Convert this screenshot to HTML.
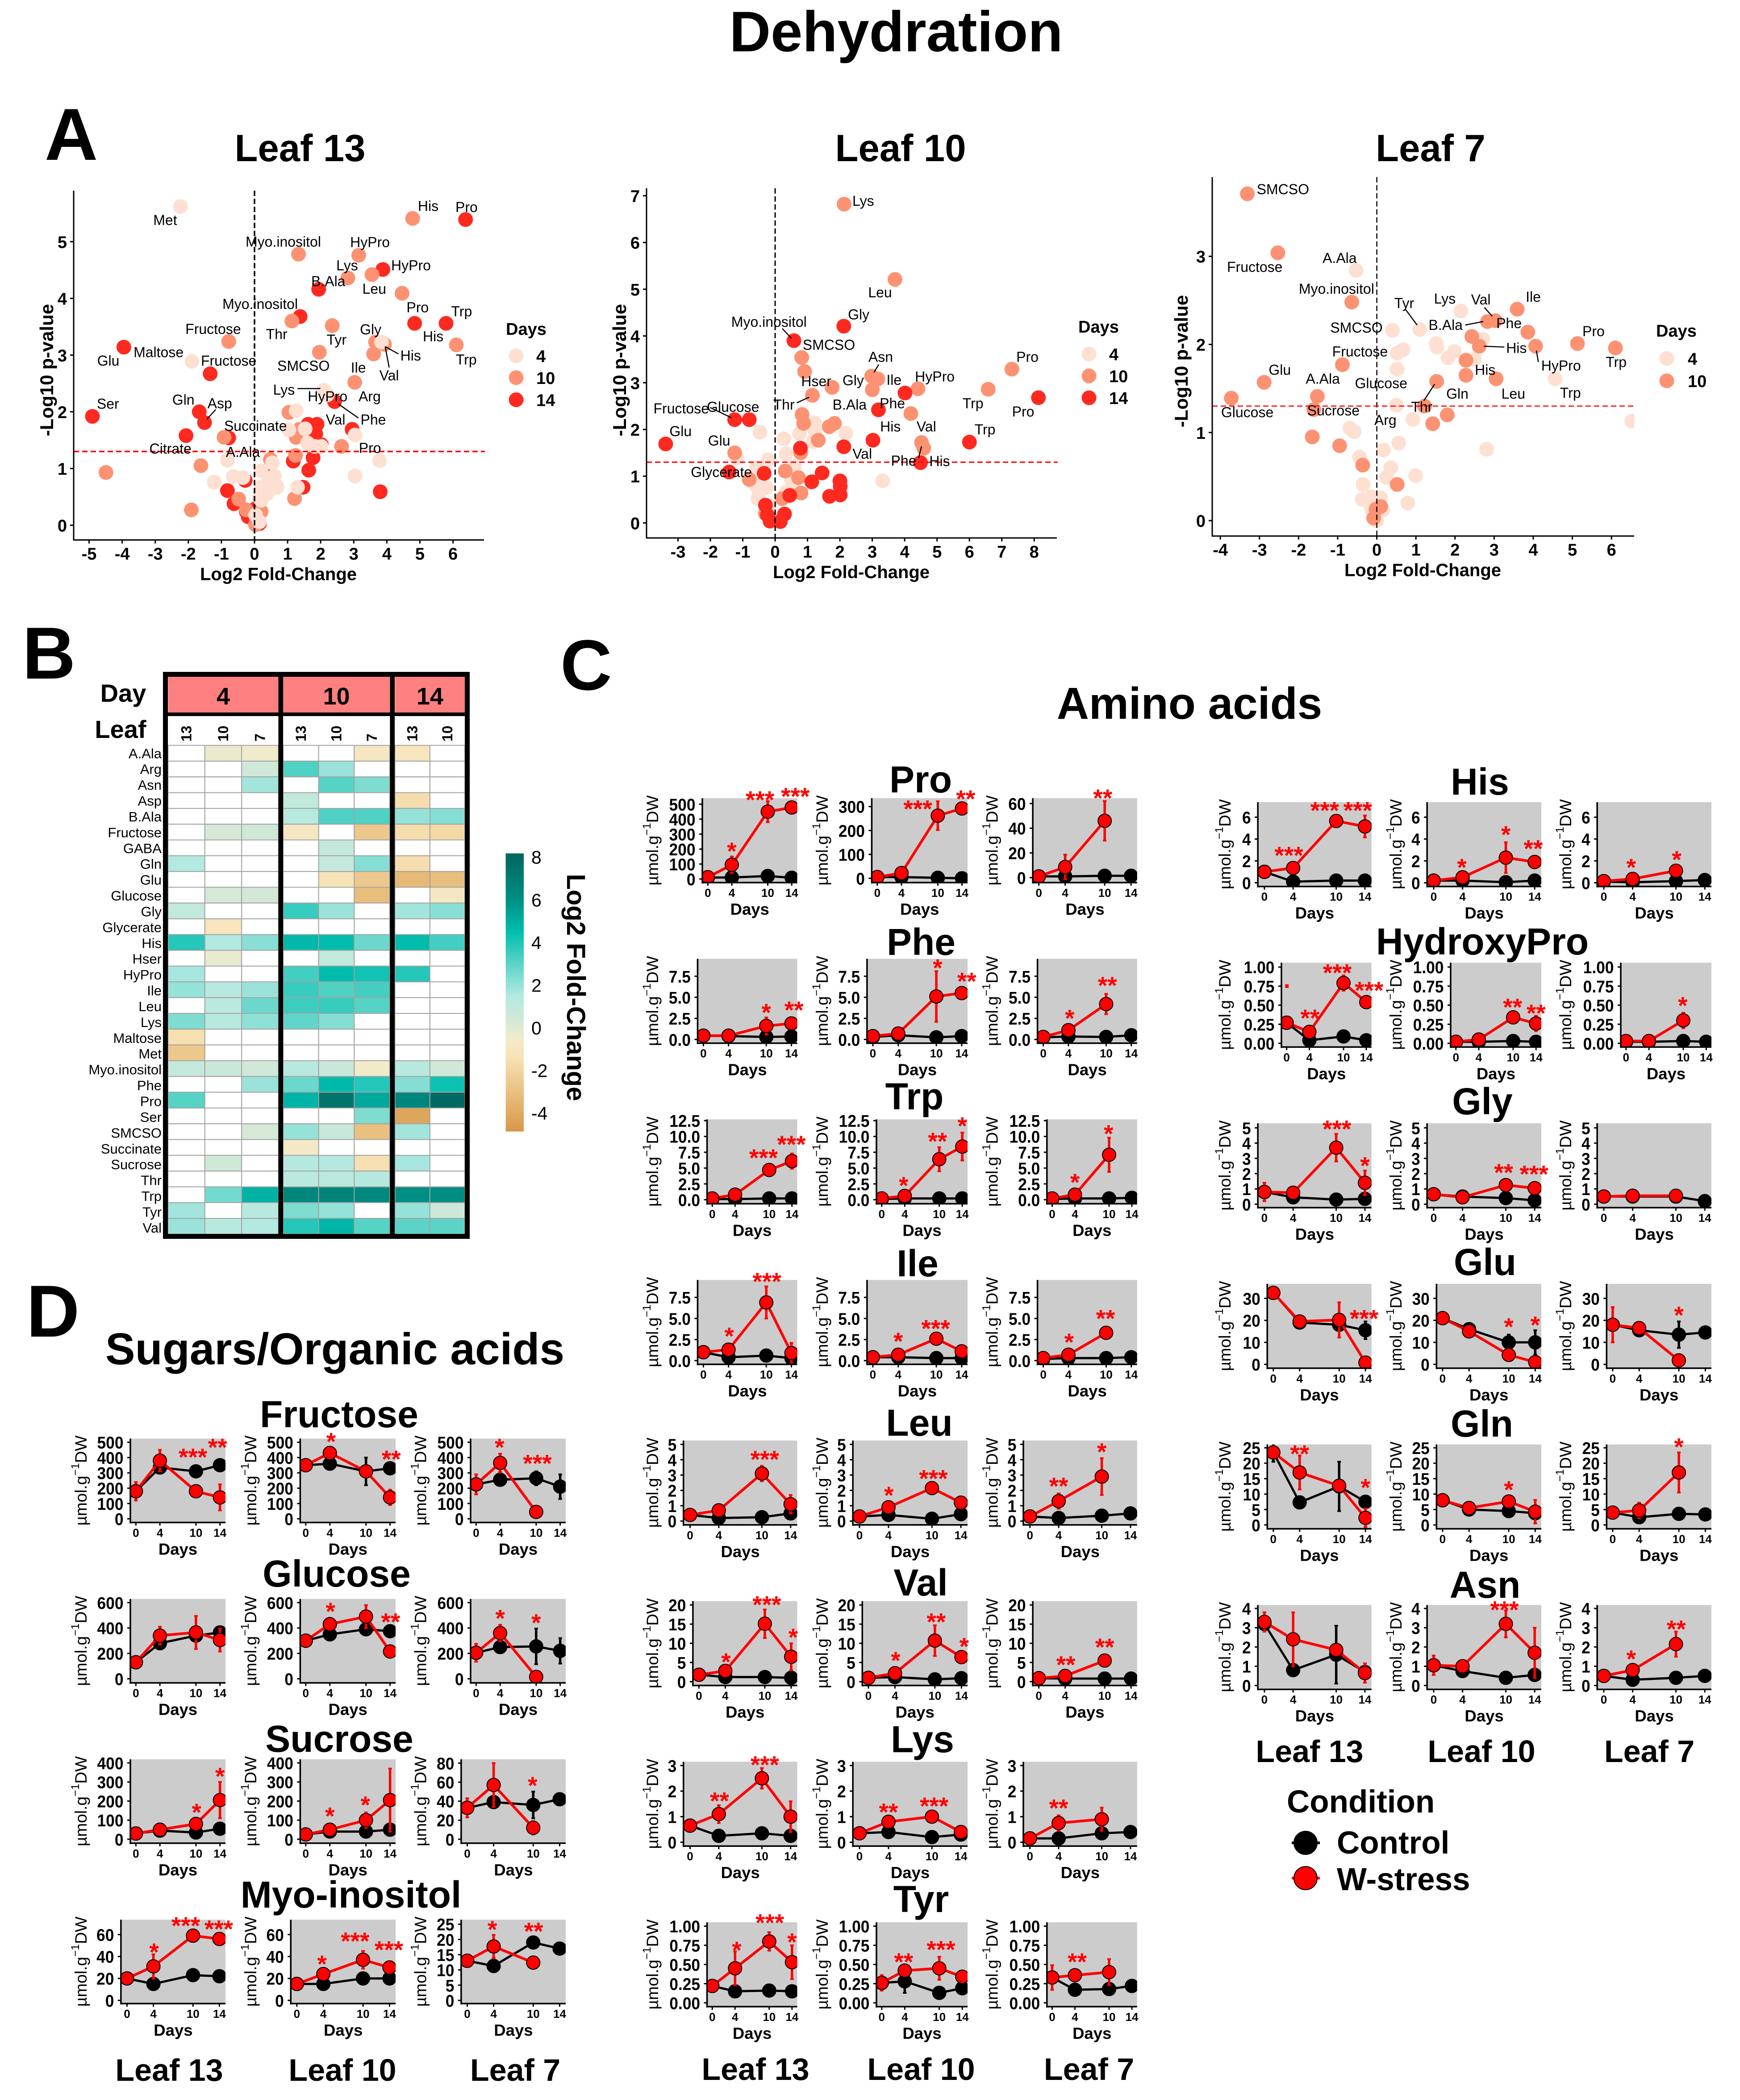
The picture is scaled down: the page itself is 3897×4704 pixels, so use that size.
<!DOCTYPE html>
<html lang="en">
<head>
<meta charset="utf-8">
<title>Dehydration</title>
<style>
html,body{margin:0;padding:0;background:#fff;width:3897px;height:4704px;overflow:hidden}
svg{display:block}
text{font-family:"Liberation Sans",sans-serif}
.b{font-weight:700}
</style>
</head>
<body>
<svg id="fig" xmlns="http://www.w3.org/2000/svg" width="3897" height="4704" viewBox="0 0 3897 4704">
<rect x="0" y="0" width="3897" height="4704" fill="#fff"/>
<text class="b" x="2007" y="115" font-size="128" text-anchor="middle">Dehydration</text>
<text class="b" x="100" y="358" font-size="165">A</text>
<text class="b" x="50" y="1520" font-size="165">B</text>
<text class="b" x="1255" y="1545" font-size="160">C</text>
<text class="b" x="59" y="2994" font-size="165">D</text>
<text class="b" x="2664" y="1610" font-size="100" text-anchor="middle">Amino acids</text>
<text class="b" x="750" y="3056" font-size="100" text-anchor="middle">Sugars/Organic acids</text>
<text class="b" x="1692" y="4659" font-size="70" text-anchor="middle">Leaf 13</text>
<text class="b" x="2063" y="4659" font-size="70" text-anchor="middle">Leaf 10</text>
<text class="b" x="2439" y="4659" font-size="70" text-anchor="middle">Leaf 7</text>
<text class="b" x="2933" y="3947" font-size="70" text-anchor="middle">Leaf 13</text>
<text class="b" x="3318" y="3947" font-size="70" text-anchor="middle">Leaf 10</text>
<text class="b" x="3694" y="3947" font-size="70" text-anchor="middle">Leaf 7</text>
<text class="b" x="379" y="4661" font-size="70" text-anchor="middle">Leaf 13</text>
<text class="b" x="767" y="4661" font-size="70" text-anchor="middle">Leaf 10</text>
<text class="b" x="1154" y="4661" font-size="70" text-anchor="middle">Leaf 7</text>
<g>
<text class="b" x="2882" y="4060" font-size="71">Condition</text>
<line x1="2893" x2="2956" y1="4128" y2="4128" stroke="#000" stroke-width="6"/>
<circle cx="2924" cy="4128" r="26" fill="#000" stroke="#000" stroke-width="2"/>
<text class="b" x="2994" y="4152" font-size="71">Control</text>
<line x1="2893" x2="2956" y1="4207" y2="4207" stroke="#f00" stroke-width="6"/>
<circle cx="2924" cy="4207" r="26" fill="#f00" stroke="#000" stroke-width="2"/>
<text class="b" x="2994" y="4234" font-size="71">W-stress</text>
</g>
<g>
<text class="b" x="276" y="1572" font-size="56" text-anchor="middle">Day</text>
<text class="b" x="270" y="1653" font-size="56" text-anchor="middle">Leaf</text>
<text class="b" transform="translate(1270,2212) rotate(90)" font-size="58" text-anchor="middle">Log2 Fold-Change</text>
</g>
</svg>
<script>
/* ---------- Volcano data (Log2 fold-change, -log10 p) ---------- */
const leaf13Day4=[[-2.24,5.62],[-1.89,2.89],[3.78,1.14],[3.04,.87],[3.04,1.59],[2.1,2.38],[2.2,2.3],[1.26,2.02],[1.04,1.68],[1.53,1.7],[1.6,1.45],[1.82,1.39],[2.02,1.39],[3.84,3.23],[-.82,1.15],[-1.22,.76],[-.64,.86],[-.35,.84],[.54,1.1],[.2,.96],[.6,.87],[.43,.81],[.68,.67],[.43,.61],[.2,.67],[.15,.5],[.37,.55],[1.3,.67],[.03,.18],[.15,.06],[.2,.44]];
const leaf13Day10=[[4.78,5.41],[1.33,4.78],[3.15,4.76],[3.55,4.42],[2.82,4.36],[4.46,4.09],[1.13,3.6],[2.35,3.52],[-.78,3.24],[6.1,3.18],[3.66,3.23],[3.93,3.19],[3.6,3.02],[1.96,3.05],[3.03,2.52],[1.04,1.99],[1.35,1.69],[1.26,1.55],[-.92,1.55],[2.63,1.39],[1.24,1.23],[-1.62,1.05],[-4.49,.93],[.48,1.16],[1.21,.47],[-1.91,.27],[-.48,.46],[.2,.24],[.03,.01],[-.25,.27]];
const leaf13Day14=[[6.38,5.39],[3.88,4.51],[1.94,4.16],[1.38,3.68],[4.84,3.56],[5.79,3.56],[-3.95,3.14],[-1.34,2.67],[2.42,2.18],[-1.67,2],[-4.9,1.92],[-1.51,1.81],[1.62,1.78],[1.89,1.78],[1.85,1.61],[2.95,1.69],[-2.07,1.58],[-.78,1.54],[2.02,1.42],[1.77,1.19],[1.17,1.13],[1.64,.97],[.45,.98],[1.47,.67],[3.8,.59],[-.82,.61],[-.62,.38],[-.28,.79],[-.25,.24],[-.19,.15],[.03,.29],[.15,.03],[.59,.73]];
const leaf10Day4=[[-.47,1.94],[1.21,2.14],[1.22,1.99],[.75,1.91],[.27,1.8],[2.18,1.92],[1.17,1.74],[.34,1.48],[-1.18,1.39],[-.21,1.35],[-.58,1.18],[.59,1.21],[3.32,.9],[.54,.76],[.33,.66],[-.64,.83],[-.26,.76],[-.49,.66],[-.53,.52],[-.18,.38],[0,.1],[.5,.94]];
const leaf10Day10=[[2.13,6.82],[3.7,5.21],[.82,3.54],[.91,3.24],[7.31,3.29],[2.98,3.14],[3.17,3.08],[1.76,2.9],[3,2.85],[4.41,2.87],[6.58,2.86],[1.15,2.73],[4.19,2.34],[.83,2.32],[.88,2.13],[1.83,2.13],[1.67,2.06],[1.33,1.77],[4.52,1.72],[4.59,1.6],[-1.25,1.5],[.79,1.5],[.31,1.11],[.72,.97],[-.8,.93],[.8,.64],[.22,.52],[-.3,.2]];
const leaf10Day14=[[-3.38,1.69],[-1.25,2.21],[-.8,2.21],[2.12,4.21],[.58,3.9],[4.01,2.78],[8.13,2.68],[3.19,2.42],[3.02,1.77],[6,1.73],[.78,1.6],[2.12,1.63],[4.49,1.29],[-1.42,1.09],[-.34,1.06],[1.45,1.07],[1.13,.88],[2,.9],[2.01,.78],[2.01,.6],[1.68,.57],[.45,.59],[-.24,.17],[.29,.19],[.16,.03],[-.16,.04],[-.3,.38]];
const leaf7Day4=[[-.53,2.84],[2.15,2.38],[1.1,2.17],[.4,2.16],[2.71,2.06],[1.52,2.01],[1.54,1.97],[1.98,1.92],[.67,1.94],[.52,1.9],[1.82,1.85],[2.49,1.83],[.52,1.72],[4.56,1.61],[.5,1.31],[.92,1.15],[6.52,1.13],[-.69,1.05],[-.58,1.01],[.56,.88],[.17,.8],[-.44,.72],[2.81,.81],[.36,.6],[.24,.49],[.99,.51],[-.35,.41],[.79,.2],[-.37,.24],[-.14,.27],[.1,.26],[-.14,.14],[.15,.12],[0,0]];
const leaf7Day10=[[-3.31,3.71],[-2.53,3.04],[-.64,2.48],[3.59,2.4],[3.03,2.27],[2.83,2.26],[3.86,2.14],[2.43,2.09],[4.06,1.98],[5.13,2.01],[6.1,1.96],[2.62,1.98],[-.88,1.77],[2.28,1.82],[2.28,1.65],[3.05,1.61],[1.53,1.58],[-2.88,1.57],[-1.52,1.41],[-3.72,1.39],[1.22,1.3],[-1.61,1.26],[1.8,1.2],[1.43,1.1],[-1.65,.95],[-.95,.85],[-.36,.63],[.52,.41],[.1,.16],[-.02,.13],[-.08,.03]];
const leaf13Labels=[['His',5.25,5.63],['Pro',6.41,5.61],['Met',-2.7,5.38],['Myo.inositol',.87,5],['HyPro',3.49,4.99],['Lys',2.8,4.58],['HyPro',4.73,4.58],['B.Ala',2.23,4.3],['Leu',3.62,4.17],['Myo.inositol',.17,3.9],['Pro',4.93,3.84],['Trp',6.26,3.77],['Fructose',-1.25,3.46],['Thr',.67,3.37],['Gly',3.51,3.45],['Tyr',2.48,3.27],['His',5.4,3.33],['Maltose',-2.9,3.05],['Glu',-4.42,2.9],['Fructose',-.78,2.9],['His',4.72,2.99],['Trp',6.4,2.92],['SMCSO',1.48,2.81],['Ile',3.14,2.78],['Val',4.07,2.64],['Lys',.89,2.39],['HyPro',2.21,2.27],['Arg',3.48,2.27],['Gln',-2.15,2.21],['Asp',-1.05,2.15],['Ser',-4.43,2.14],['Val',2.45,1.86],['Phe',3.59,1.86],['Succinate',.03,1.75],['Citrate',-2.54,1.35],['A.Ala',-.35,1.29],['Pro',3.49,1.36]];
const leaf10Labels=[['Lys',2.72,6.89],['Leu',3.24,4.93],['Gly',2.58,4.46],['Myo.inositol',-.19,4.3],['SMCSO',1.66,3.81],['Asn',3.26,3.55],['Pro',7.79,3.55],['Ile',3.67,3.06],['HyPro',4.93,3.13],['Hser',1.27,3.03],['Gly',2.41,3.05],['Thr',.27,2.53],['B.Ala',2.3,2.53],['Phe',3.62,2.56],['Trp',6.11,2.56],['Fructose',-2.9,2.45],['Glucose',-1.3,2.48],['Pro',7.66,2.38],['Glu',-2.92,1.96],['His',3.56,2.06],['Val',4.67,2.06],['Trp',6.48,2],['Glu',-1.73,1.76],['Val',2.69,1.48],['Phe',3.97,1.33],['His',5.08,1.32],['Glycerate',-1.66,1.09]];
const leaf7Labels=[['SMCSO',-2.4,3.76],['Fructose',-3.12,2.88],['A.Ala',-.95,2.98],['Myo.inositol',-1.03,2.63],['Tyr',.7,2.47],['Lys',1.74,2.52],['Val',2.66,2.51],['Ile',4,2.54],['SMCSO',-.52,2.19],['B.Ala',1.76,2.22],['Phe',3.38,2.24],['Pro',5.54,2.15],['His',3.57,1.96],['Fructose',-.43,1.92],['Trp',6.12,1.8],['Glu',-2.48,1.71],['HyPro',4.71,1.76],['His',2.77,1.71],['A.Ala',-1.38,1.61],['Glucose',.11,1.56],['Gln',2.06,1.44],['Leu',3.49,1.44],['Trp',4.95,1.45],['Thr',1.15,1.29],['Glucose',-3.31,1.23],['Sucrose',-1.11,1.25],['Arg',.22,1.14]];
const leaf13Connectors=[[3.95,3.15,4.35,3.02],[3.95,3.15,4.07,2.78],[1.3,2.41,1.99,2.41],[2.53,2.14,3.14,1.89],[-1.44,1.87,-1.17,2.04]];
const leaf10Connectors=[[-2.01,2.47,-1.35,2.25],[.22,4.16,.5,3.95],[3.2,3.39,3.05,3.22],[1.05,2.69,.67,2.57],[4.52,1.64,4.43,1.39]];
const leaf7Connectors=[[.73,2.4,1.03,2.22],[2.75,2.42,2.95,2.32],[2.26,2.22,2.72,2.26],[2.74,1.98,3.26,1.97],[4.08,1.93,4.13,1.8],[1.2,1.36,1.48,1.55]];
const leaf13XTicks=[-5,-4,-3,-2,-1,0,1,2,3,4,5,6];
const leaf13YTicks=[0,1,2,3,4,5];
const leaf10XTicks=[-3,-2,-1,0,1,2,3,4,5,6,7,8];
const leaf10YTicks=[0,1,2,3,4,5,6,7];
const leaf7XTicks=[-4,-3,-2,-1,0,1,2,3,4,5,6];
const leaf7YTicks=[0,1,2,3];
const significanceLine=1.3;

/* ---------- Heatmap data ---------- */
const heatGroups=['4','10','14'];
const heatLeaves=[['13','10','7'],['13','10','7'],['13','10']];
const heatRows=['A.Ala','Arg','Asn','Asp','B.Ala','Fructose','GABA','Gln','Glu','Glucose','Gly','Glycerate','His','Hser','HyPro','Ile','Leu','Lys','Maltose','Met','Myo.inositol','Phe','Pro','Ser','SMCSO','Succinate','Sucrose','Thr','Trp','Tyr','Val'];
const n=null;
const heatValues=[
[n,-.3,-.4,n,n,-.9,-1.1,n],
[n,n,.5,3.2,1.9,n,n,n],
[n,n,1.8,n,3.1,2.4,n,n],
[n,n,n,1,n,n,-1.6,n],
[n,n,n,1.3,3.2,3.2,2,2.3],
[n,.3,.5,-.9,n,-2.6,-1.6,-1.8],
[n,n,n,n,.9,n,n,n],
[1.5,n,n,n,.9,2.3,-1.6,n],
[n,n,n,n,-1.3,-2.6,-3.3,-3.1],
[n,.3,.4,n,n,-3.1,n,-.8],
[1,n,n,3.6,1.9,n,1.8,2.2],
[n,-1.1,n,n,n,n,n,n],
[3.9,1.5,2.2,4.7,4.6,2.7,4.6,3.4],
[n,-.2,n,n,1,n,n,n],
[1.7,n,n,3.4,4.6,4.2,3.9,n],
[2,1.3,1.9,3.6,3.2,3.4,n,n],
[n,1.2,2.7,3.5,3.6,3.1,n,n],
[2.4,1.3,2.1,2.9,2.3,n,n,n],
[-1.5,n,n,n,n,n,n,n],
[-2.6,n,n,n,n,n,n,n],
[.9,.7,.5,1.3,.7,-.6,1.3,.5],
[n,n,1.9,2.7,4.7,3.9,2.3,4.3],
[3.1,n,n,4.8,7.4,5.2,6.4,8],
[n,n,n,n,n,2.4,-4.2,n],
[n,n,.3,2,.8,-3,1.8,n],
[n,n,n,-.7,n,n,n,n],
[n,.5,n,1.4,1.4,-1.5,1.7,n],
[n,n,n,1.2,1.2,1.4,n,n],
[n,2.6,4.9,6.5,6.6,6.3,6,6.1],
[1.8,n,1.3,2.4,2,n,2,.6],
[1.9,1.3,1.5,3.9,4.8,3.1,3,3]];
const colorbarTicks=[8,6,4,2,0,-2,-4];

/* ---------- Time-course data ---------- */
const days=[0,4,10,14];
const dayTickLabels=['0','4','10','14'];
const metabolites=['Pro','Phe','Trp','Ile','Leu','Val','Lys','Tyr','His','HydroxyPro','Gly','Glu','Gln','Asn','Fructose','Glucose','Sucrose','Myo-inositol'];
const controlValues=[
[[10,10,20,8],[5,5,2,0],[1,1,1.5,1.5]],
[[.45,.4,.3,.35],[.3,.5,.25,.4],[.25,.35,.3,.5]],
[[.1,.1,.2,.2],[.1,.2,.2,.2],[.1,.2,.2,.3]],
[[1,.4,.6,.3],[.4,.4,.3,.3],[.2,.3,.3,.4]],
[[.4,.2,.25,.5],[.3,.4,.15,.45],[.3,.2,.35,.5]],
[[1.8,1.2,1.2,1],[1,1.2,.6,.9],[.9,.8,.8,.8]],
[[.65,.25,.35,.25],[.35,.4,.2,.3],[.15,.15,.35,.4]],
[[.22,.15,.16,.15],[.26,.28,.13,.19],[.33,.17,.18,.22]],
[[1,.1,.2,.2],[.2,.2,.05,.2],[.1,.05,.15,.25]],
[[.27,.04,.09,.04],[.02,.02,.03,.02],[.02,.02,.03,.02]],
[[.8,.45,.3,.35],[.65,.5,.4,.25],[.5,.5,.5,.2]],
[[32.5,19,18,15.5],[21,16,10,10],[18,15.5,13.5,14.5]],
[[23.5,7.3,12.5,7.5],[8,5,4.5,3.8],[4,2.5,3.6,3.4]],
[[3.2,.8,1.6,.7],[1.05,.75,.4,.55],[.5,.3,.4,.5]],
[[180,335,310,350],[350,360,310,330],[225,255,265,210]],
[[130,280,340,365],[300,350,390,375],[205,250,255,220]],
[[30,45,35,55],[25,40,40,50],[33,39,36,42]],
[[20,15,23,22],[15,15,20,20],[13,11.3,19,17]]];
const stressValues=[
[[12,95,450,478],[5,22,262,292],[1,8.6,46,n]],
[[.45,.45,1.6,1.9],[.4,.7,5.1,5.5],[.3,1.1,4.2,n]],
[[.2,.8,4.7,6.1],[.2,.6,6.4,8.4],[.2,.8,7.1,n]],
[[1,1.3,6.9,.9],[.4,.7,2.6,1.1],[.3,.7,3.3,n]],
[[.4,.7,3.1,1.1],[.3,.9,2.15,1.2],[.3,1.3,2.9,n]],
[[1.8,2.8,15.1,6.5],[1,2.2,10.7,6.4],[.9,1.5,5.5,n]],
[[.65,1.1,2.5,1],[.35,.8,1,.4],[.15,.75,.9,n]],
[[.22,.45,.8,.53],[.26,.42,.45,.34],[.33,.36,.4,n]],
[[1,1.35,5.65,5.15],[.2,.5,2.3,1.9],[.15,.35,1.1,n]],
[[.27,.15,.79,.54],[.02,.05,.34,.26],[.03,.03,.3,n]],
[[.8,.75,3.7,1.4],[.65,.45,1.25,1.05],[.5,.55,.55,n]],
[[32.5,19.5,20.2,.8],[21,15,4.3,1],[18,16.5,1.8,n]],
[[23.5,17,12.7,2.3],[8,5.5,7.6,4.3],[4,4.7,17,n]],
[[3.3,2.4,1.85,.65],[1.05,1,3.2,1.7],[.5,.8,2.15,n]],
[[180,380,180,140],[350,430,310,140],[225,365,45,n]],
[[130,340,365,305],[300,430,490,215],[205,360,15,n]],
[[30,50,80,205],[25,50,100,205],[33,57,12,n]],
[[20,31,59,56],[15,24,37,30],[13,17.7,12.4,n]]];
const controlErrors=[
[[0,0,0,0],[0,0,0,0],[0,0,0,0]],
[[0,0,0,0],[0,0,0,0],[0,0,0,0]],
[[0,0,0,0],[0,0,0,0],[0,0,0,0]],
[[0,0,0,0],[0,0,0,0],[0,0,0,0]],
[[0,0,0,0],[0,0,0,0],[0,0,0,0]],
[[0,0,0,0],[0,0,0,0],[0,0,0,0]],
[[0,0,0,0],[0,0,0,0],[0,0,0,0]],
[[0,0,.05,0],[0,.15,0,0],[0,0,0,0]],
[[0,0,0,0],[0,0,0,0],[0,0,0,0]],
[[0,0,0,0],[0,0,0,0],[0,0,0,0]],
[[0,0,0,0],[0,0,0,0],[0,0,0,0]],
[[0,0,0,4],[0,0,3.5,5.5],[0,0,6,0]],
[[3,0,8,0],[0,0,0,0],[0,0,0,0]],
[[0,0,1.5,0],[0,0,0,0],[0,0,0,0]],
[[0,0,0,0],[0,0,90,0],[0,0,45,80]],
[[0,0,0,0],[0,0,0,0],[0,0,140,100]],
[[0,0,0,0],[0,0,0,0],[0,0,14,0]],
[[0,0,0,0],[0,0,0,0],[0,0,0,0]]];
const stressErrors=[
[[0,55,70,10],[0,15,60,10],[0,10,16,0]],
[[0,0,1,.2],[0,.3,3,.3],[0,.3,1.2,0]],
[[0,.7,.8,1.2],[0,.3,1.9,2.2],[0,.5,2.7,0]],
[[0,.6,1.9,1.2],[0,.3,.3,0],[0,.4,.5,0]],
[[0,0,.5,.6],[0,.3,0,0],[0,.5,1.2,0]],
[[0,1,3.7,3.5],[0,.8,4,0],[0,1,1,0]],
[[0,.35,.4,.6],[0,.2,.15,.1],[0,.3,.45,0]],
[[0,.22,.12,.22],[.1,.05,.15,0],[.16,.07,.17,0]],
[[0,.2,.1,1],[0,.2,1.4,0],[0,.2,.2,0]],
[[0,0,.1,0],[0,0,.07,.1],[0,0,.1,0]],
[[.6,.4,.9,.8],[0,0,0,0],[.15,.2,.2,0]],
[[0,2,8,0],[0,0,0,0],[8,2,0,0]],
[[0,5.5,0,3],[1.5,0,0,3.8],[0,2.5,6.5,0]],
[[.5,1.4,0,.5],[.5,0,.7,1.3],[0,0,.65,0]],
[[60,70,0,85],[0,30,0,50],[65,60,0,0]],
[[40,70,130,90],[50,50,90,0],[70,65,0,0]],
[[0,0,15,95],[0,0,40,165],[10,23,7,0]],
[[0,11,0,0],[0,0,8,0],[1.5,3.8,0,0]]];
const starMarks=[
[[['*',4,215],['***',8.7,558],['***',14.6,581]],[['***',6.7,308],['**',14.6,350]],[['**',9.7,68]]],
[[['*',10,3.7],['**',14.4,4]],[['*',10.2,9],['**',14.8,7.4]],[['*',4.2,3],['**',10.2,6.9]]],
[[['***',9,7.3],['***',13.9,9.4]],[['*',3.8,2.9],['**',9.7,9.9],['*',14,12.35]],[['*',4,3.4],['*',9.9,11.1]]],
[[['*',4.1,3.4],['***',10.1,9.9]],[['*',4,2.8],['***',9.9,4.3]],[['*',4.1,2.7],['**',9.9,5.5]]],
[[['***',10.4,4.3]],[['*',4.05,1.95],['***',10.2,3.05]],[['**',4,2.55],['*',10,4.8]]],
[[['*',4.1,6.3],['***',10.3,21.2],['*',14.3,12.7]],[['*',4.1,6.6],['**',10.2,16.7],['*',14.4,10.3]],[['**',4.1,5.5],['**',10,10.1]]],
[[['**',4.1,1.78],['***',10.4,3.2]],[['**',4,1.35],['***',10.3,1.58]],[['**',4,1.5]]],
[[['*',4.3,.74],['***',10.1,1.1],['*',14,.85]],[['**',3.8,.59],['***',10.3,.75]],[['**',4.4,.59]]],
[[['***',3.4,2.9],['***',8.4,7],['***',13,7]],[['*',3.9,1.8],['*',10,4.8],['**',13.8,3.5]],[['*',3.8,1.8],['*',10.1,2.5]]],
[[['.',.05,.89],['**',4.1,.385],['***',8.9,.98],['***',14.5,.75]],[['**',9.9,.53],['**',14,.45]],[['*',9.9,.55]]],
[[['***',10.1,5.2],['*',14,2.8]],[['**',9.7,2.35],['***',13.9,2.25]],[]],
[[['***',13.8,22.8]],[['*',10,19],['*',14,19.8]],[['*',10,24.3]]],
[[['**',4,24.4],['*',14,13.5]],[['*',10,12.8]],[['*',10,26.7]]],
[[],[['***',9.8,4.15]],[['*',3.8,1.6],['**',10.05,3.15]]],
[[['***',9.5,430],['**',13.6,495]],[['*',4.2,533],['**',14.2,417]],[['*',3.9,494],['***',10.2,390]]],
[[],[['*',4.1,564],['**',14.1,482]],[['*',4,510],['*',10,475]]],
[[['*',10.1,164],['*',14,352]],[['*',4,143],['*',9.9,202]],[['*',9.9,61]]],
[[['*',4.1,48],['***',8.9,72],['***',13.9,69]],[['*',3.8,37],['***',8.8,58],['***',13.9,50]],[['*',3.8,24.7],['**',10.05,24.1]]]];
const yTickLabels=[
[['0','100','200','300','400','500'],['0','100','200','300'],['0','20','40','60']],
[['0.0','2.5','5.0','7.5'],['0.0','2.5','5.0','7.5'],['0.0','2.5','5.0','7.5']],
[['0.0','2.5','5.0','7.5','10.0','12.5'],['0.0','2.5','5.0','7.5','10.0','12.5'],['0.0','2.5','5.0','7.5','10.0','12.5']],
[['0.0','2.5','5.0','7.5'],['0.0','2.5','5.0','7.5'],['0.0','2.5','5.0','7.5']],
[['0','1','2','3','4','5'],['0','1','2','3','4','5'],['0','1','2','3','4','5']],
[['0','5','10','15','20'],['0','5','10','15','20'],['0','5','10','15','20']],
[['0','1','2','3'],['0','1','2','3'],['0','1','2','3']],
[['0.00','0.25','0.50','0.75','1.00'],['0.00','0.25','0.50','0.75','1.00'],['0.00','0.25','0.50','0.75','1.00']],
[['0','2','4','6'],['0','2','4','6'],['0','2','4','6']],
[['0.00','0.25','0.50','0.75','1.00'],['0.00','0.25','0.50','0.75','1.00'],['0.00','0.25','0.50','0.75','1.00']],
[['0','1','2','3','4','5'],['0','1','2','3','4','5'],['0','1','2','3','4','5']],
[['0','10','20','30'],['0','10','20','30'],['0','10','20','30']],
[['0','5','10','15','20','25'],['0','5','10','15','20','25'],['0','5','10','15','20','25']],
[['0','1','2','3','4'],['0','1','2','3','4'],['0','1','2','3','4']],
[['0','100','200','300','400','500'],['0','100','200','300','400','500'],['0','100','200','300','400','500']],
[['0','200','400','600'],['0','200','400','600'],['0','200','400','600']],
[['0','100','200','300','400'],['0','100','200','300','400'],['0','20','40','60','80']],
[['0','20','40','60'],['0','20','40','60'],['0','5','10','15','20','25']]];
const yDomains=[
[[-24,540],[-18,335],[-4,64.3]],
[[-.44,9.57],[-.44,9.57],[-.44,9.57]],
[[-.64,12.7],[-.64,12.7],[-.64,12.7]],
[[-.44,9.57],[-.44,9.57],[-.44,9.57]],
[[-.25,5.25],[-.25,5.25],[-.25,5.25]],
[[-1,21],[-1,21],[-1,21]],
[[-.15,3.15],[-.15,3.15],[-.15,3.15]],
[[-.05,1.05],[-.05,1.05],[-.05,1.05]],
[[-.34,7.38],[-.34,7.38],[-.34,7.38]],
[[-.049,1.057],[-.049,1.057],[-.049,1.057]],
[[-.226,5.3],[-.226,5.3],[-.226,5.3]],
[[-1.75,36.6],[-1.75,36.6],[-1.75,36.6]],
[[-1.25,26.1],[-1.25,26.1],[-1.25,26.1]],
[[-.2,4.18],[-.2,4.18],[-.2,4.18]],
[[-24,524],[-24,524],[-24,524]],
[[-32,629],[-32,629],[-32,629]],
[[-21,419],[-21,419],[-4.2,84]],
[[-2.9,73.6],[-2.9,73.6],[-1.04,26.5]]];

/* ---------- Layout ---------- */
const svg=document.getElementById('fig');
const NS='http://www.w3.org/2000/svg';
function mk(tag,parent,attrs,txt){
  const el=document.createElementNS(NS,tag);
  for(const k in attrs) el.setAttribute(k,attrs[k]);
  if(txt!==undefined) el.textContent=txt;
  parent.appendChild(el);
  return el;
}
const slug=s=>String(s).toLowerCase().replace(/[^a-z0-9]+/g,'-');
function linScale(d0,d1,r0,r1){return v=>r0+(v-d0)*(r1-r0)/(d1-d0);}

/* ---------- Volcano plots ---------- */
const DAY_COLORS={4:'#FEE0D2',10:'#FD9272',14:'#FE2A20'};
function volcano(cfg){
  const g=mk('g',svg,{});
  
  
  const X=linScale(cfg.xd[0],cfg.xd[1],cfg.left,cfg.right);
  const Y=linScale(cfg.yd[0],cfg.yd[1],cfg.bottom,cfg.top);
  const title=mk('text',g,{class:'b',x:cfg.titleX,y:361,'font-size':85,'text-anchor':'middle'},cfg.title);
  
  
  const clipId='vclip-'+cfg.id;
  const cp=mk('clipPath',g,{id:clipId});
  mk('rect',cp,{x:cfg.left,y:cfg.top-30,width:cfg.right-cfg.left,height:cfg.bottom-cfg.top+30});
  const pts=mk('g',g,{'clip-path':'url(#'+clipId+')'});
  
  
  cfg.series.forEach(s=>{
    s.values.forEach(p=>{
      const c=mk('circle',pts,{cx:X(p[0]),cy:Y(p[1]),r:16.5,fill:DAY_COLORS[s.day]});
      
      
    });
  });
  const v0=mk('line',g,{x1:X(0),x2:X(0),y1:cfg.top,y2:cfg.bottom,stroke:'#000','stroke-width':cfg.dashW,'stroke-dasharray':'12 6'});
  
  
  const h0=mk('line',g,{x1:cfg.left,x2:cfg.right+2,y1:Y(significanceLine),y2:Y(significanceLine),stroke:'#f00','stroke-width':cfg.dashW,'stroke-dasharray':'12 7'});
  
  
  cfg.connectors.forEach(c=>{
    const l=mk('line',g,{x1:X(c[0]),y1:Y(c[1]),x2:X(c[2]),y2:Y(c[3]),stroke:'#000','stroke-width':2.5});
    
    
  });
  cfg.labels.forEach(l=>{
    const t=mk('text',g,{x:X(l[1]),y:Y(l[2])+11,'font-size':32,'text-anchor':'middle'},l[0]);
    
    
  });
  const ax=mk('line',g,{x1:cfg.left,x2:cfg.left,y1:cfg.top,y2:cfg.bottom+1.5,stroke:'#000','stroke-width':3});
  
  
  const ay=mk('line',g,{x1:cfg.left,x2:cfg.right,y1:cfg.bottom,y2:cfg.bottom,stroke:'#000','stroke-width':3});
  
  
  cfg.xTicks.forEach(v=>{
    const t=mk('line',g,{x1:X(v),x2:X(v),y1:cfg.bottom,y2:cfg.bottom+8,stroke:'#000','stroke-width':3});
    
    
    const lb=mk('text',g,{class:'b',x:X(v),y:cfg.bottom+44,'font-size':38,'text-anchor':'middle'},v);
    
    
  });
  cfg.yTicks.forEach(v=>{
    const t=mk('line',g,{x1:cfg.left-8,x2:cfg.left,y1:Y(v),y2:Y(v),stroke:'#000','stroke-width':3});
    
    
    const lb=mk('text',g,{class:'b',x:cfg.left-15,y:Y(v)+14,'font-size':38,'text-anchor':'end'},v);
    
    
  });
  const xt=mk('text',g,{class:'b',x:(cfg.left+cfg.right)/2-1,y:cfg.bottom+90,'font-size':40,'text-anchor':'middle'},'Log2 Fold-Change');
  
  
  const yt=mk('text',g,{class:'b',transform:'translate('+(cfg.yTitleX+15)+','+cfg.yTitleY+') rotate(-90)','font-size':42,'text-anchor':'middle'},'-Log10 p-value');
  
  
  const lt=mk('text',g,{class:'b',x:cfg.legend.x,y:cfg.legend.y,'font-size':38},'Days');
  
  
  cfg.legend.days.forEach((d,i)=>{
    const c=mk('circle',g,{cx:cfg.legend.cx,cy:cfg.legend.ys[i],r:16.5,fill:DAY_COLORS[d]});
    
    
    const t=mk('text',g,{class:'b',x:cfg.legend.tx,y:cfg.legend.ys[i]+14,'font-size':38},d);
    
    
  });
}
volcano({id:'leaf-13',title:'Leaf 13',titleX:672,left:165,right:1084,top:427,bottom:1209.5,xd:[-5.466,6.937],yd:[-.26,5.9],dashW:3.5,
 series:[{day:14,values:leaf13Day14},{day:10,values:leaf13Day10},{day:4,values:leaf13Day4}],labels:leaf13Labels,connectors:leaf13Connectors,xTicks:leaf13XTicks,yTicks:leaf13YTicks,yTitleX:104,yTitleY:829,
 legend:{x:1133,y:750,cx:1156,tx:1201,days:[4,10,14],ys:[797,846,895.5]}});
volcano({id:'leaf-10',title:'Leaf 10',titleX:2017,left:1448,right:2367,top:421.6,bottom:1205,xd:[-3.972,8.7],yd:[-.321,7.161],dashW:3,
 series:[{day:4,values:leaf10Day4},{day:10,values:leaf10Day10},{day:14,values:leaf10Day14}],labels:leaf10Labels,connectors:leaf10Connectors,xTicks:leaf10XTicks,yTicks:leaf10YTicks,yTitleX:1387,yTitleY:829,
 legend:{x:2415,y:745,cx:2439,tx:2484,days:[4,10,14],ys:[793,842,891]}});
volcano({id:'leaf-7',title:'Leaf 7',titleX:3204,left:2715,right:3660,top:396.6,bottom:1200.7,xd:[-4.207,6.58],yd:[-.175,3.9],dashW:2.5,
 series:[{day:4,values:leaf7Day4},{day:10,values:leaf7Day10}],labels:leaf7Labels,connectors:leaf7Connectors,xTicks:leaf7XTicks,yTicks:leaf7YTicks,yTitleX:2645,yTitleY:809,
 legend:{x:3709,y:754,cx:3733,tx:3780,days:[4,10],ys:[803,853]}});

/* ---------- Heatmap ---------- */
const COLOR_STOPS=[[-4.86,[216,150,74]],[-3,[233,192,127]],[-1.3,[248,227,184]],[-.5,[242,235,203]],[.3,[214,232,214]],[1.5,[178,233,225]],[3,[91,212,199]],[4.5,[0,191,176]],[6,[0,143,132]],[8.17,[1,102,94]]];
function colorOf(v){
  if(v<=COLOR_STOPS[0][0]) v=COLOR_STOPS[0][0];
  for(let i=1;i<COLOR_STOPS.length;i++){
    if(v<=COLOR_STOPS[i][0]){
      const a=COLOR_STOPS[i-1],b=COLOR_STOPS[i],t=(v-a[0])/(b[0]-a[0]);
      return 'rgb('+a[1].map((c,j)=>Math.round(c+(b[1][j]-c)*t)).join(',')+')';
    }
  }
  return 'rgb(1,102,94)';
}
(function(){
  const g=mk('g',svg,{});
  
  
  const groupBox=[{x0:376.4,x1:623.6},{x0:634,x1:873},{x0:884.5,x1:1041.3}];
  const rowTop=1669.6,rowH=35.32,labelPitch=35.42,headerTop=1516,headerBottom=1596;
  let colIndex=0;
  heatGroups.forEach((label,gi)=>{
    const box=groupBox[gi];
    const head=mk('rect',g,{x:box.x0,y:headerTop,width:box.x1-box.x0,height:headerBottom-headerTop,fill:'#FF8080'});
    
    
    const ht=mk('text',g,{class:'b',x:(box.x0+box.x1)/2,y:1578,'font-size':54,'text-anchor':'middle'},label);
    
    
    const cw=(box.x1-box.x0)/heatLeaves[gi].length;
    heatLeaves[gi].forEach((leaf,ci)=>{
      const cx=box.x0+cw*ci;
      const lt=mk('text',g,{class:'b',transform:'translate('+(cx+cw/2+11)+',1661) rotate(-90)','font-size':32},leaf);
      
      
      heatRows.forEach((row,ri)=>{
        const v=heatValues[ri][colIndex];
        const c=mk('rect',g,{x:cx,y:rowTop+ri*rowH,width:cw,height:rowH,fill:v===null?'#fff':colorOf(v),stroke:'#A3A3A3','stroke-width':2});
        
        
      });
      colIndex++;
    });
  });
  heatRows.forEach((row,ri)=>{
    const t=mk('text',g,{x:362,y:rowTop+ri*labelPitch+rowH/2+11,'font-size':31,'text-anchor':'end'},row);
    
    
  });
  const frame=mk('rect',g,{x:370.5,y:1510.5,width:676,height:1259,fill:'none',stroke:'#000','stroke-width':11});
  
  
  [628.8,878.7].forEach(x=>{
    const l=mk('line',g,{x1:x,x2:x,y1:1510,y2:2770,stroke:'#000','stroke-width':10.6});
    
    
  });
  const hl=mk('line',g,{x1:370,x2:1047,y1:1600,y2:1600,stroke:'#000','stroke-width':8});
  
  
  /* colour bar */
  const top=1911.6,bottom=2534,maxV=8.17,minV=-4.86;
  const CY=linScale(minV,maxV,bottom,top);
  const steps=130;
  for(let i=0;i<steps;i++){
    const v0=minV+(maxV-minV)*i/steps,v1=minV+(maxV-minV)*(i+1)/steps;
    const s=mk('rect',g,{x:1132.6,y:CY(v1),width:40.4,height:CY(v0)-CY(v1)+.6,fill:colorOf((v0+v1)/2)});
    
    
  }
  colorbarTicks.forEach(v=>{
    const t=mk('text',g,{x:1190,y:CY(v)+15,'font-size':41},v);
    
    
  });
})();

/* ---------- Time-course small multiples ---------- */
const blockLayout={
 C1:{bases:[1509.6,1889,2270.8],rights:[1785.5,2167,2546.7],yTitle:[1464,1844,2224.5],top:1788,step:359.7,h:189},
 C2:{bases:[2796,3175,3556],rights:[3071.7,3452,3833],yTitle:[2746,3129,3509],top:1796.7,step:359.7,h:189},
 D:{bases:[228.6,609,990.6],rights:[505,886,1267],yTitle:[184,564,944.5],top:3222.4,step:359.2,h:188}
};
const metaboliteLayout=[
 ['C1',0,2062,1775],['C1',1,2063,2139],['C1',2,2048,2485],['C1',3,2055,2859],['C1',4,2059,3216],['C1',5,2062,3574],['C1',6,2066,3925],['C1',7,2063,4283],
 ['C2',0,3314.5,1780],['C2',1,3320,2138],['C2',2,3320,2496],['C2',3,3326,2856],['C2',4,3319,3218],['C2',5,3326,3579],
 ['D',0,759.5,3197],['D',1,754,3554],['D',2,760,3924],['D',3,786,4273]];
const LEAVES=['leaf-13','leaf-10','leaf-7'];
function labelWidth(labels){
  let w=0;
  labels.forEach(s=>{let t=0;for(const ch of s) t+=(ch==='.'?.278:.556);w=Math.max(w,t);});
  return w*38;
}
function timeChart(mi,col){
  const lay=metaboliteLayout[mi],block=blockLayout[lay[0]];
  const name=metabolites[mi];
  const ticks=yTickLabels[mi][col];
  const dom=yDomains[mi][col];
  const top=block.top+lay[1]*block.step,bottom=top+block.h;
  const left=block.bases[col]+labelWidth(ticks),right=block.rights[col];
  const pad=.058*(right-left);
  const X=linScale(0,14,left+pad,right-pad);
  const Y=linScale(dom[0],dom[1],bottom,top);
  const g=mk('g',svg,{});
  
  
  const bg=mk('rect',g,{x:left,y:top,width:right-left,height:bottom-top,fill:'#CCCCCC'});
  
  
  const clipId='clip-'+mi+'-'+col;
  const cp=mk('clipPath',g,{id:clipId});
  mk('rect',cp,{x:left,y:top,width:right-left,height:bottom-top});
  const plot=mk('g',g,{'clip-path':'url(#'+clipId+')'});
  
  
  function series(vals,errs,color,label,lineW){
    errs.forEach((e,i)=>{
      if(!e||vals[i]===null) return;
      const x=X(days[i]);
      const bar=mk('line',plot,{x1:x,x2:x,y1:Y(vals[i]-e),y2:Y(vals[i]+e),stroke:color,'stroke-width':5.5});
      
      
      [vals[i]-e,vals[i]+e].forEach(v=>{
        const cap=mk('line',plot,{x1:x-4,x2:x+4,y1:Y(v),y2:Y(v),stroke:color,'stroke-width':4});
        
        
      });
    });
    const pts=[];
    vals.forEach((v,i)=>{if(v!==null) pts.push(X(days[i])+','+Y(v));});
    const line=mk('polyline',plot,{points:pts.join(' '),fill:'none',stroke:color,'stroke-width':lineW,'stroke-linejoin':'round'});
    
    
    vals.forEach((v,i)=>{
      if(v===null) return;
      const c=mk('circle',plot,{cx:X(days[i]),cy:Y(v),r:15,fill:color,stroke:'#000','stroke-width':2});
      
      
    });
  }
  series(controlValues[mi][col],controlErrors[mi][col],'#000','control',5);
  series(stressValues[mi][col],stressErrors[mi][col],'#f00','w-stress',6);
  const ay=mk('line',g,{x1:left,x2:left,y1:top,y2:bottom+2,stroke:'#000','stroke-width':3.5});
  
  
  const ax=mk('line',g,{x1:left,x2:right,y1:bottom,y2:bottom,stroke:'#000','stroke-width':3.5});
  
  
  ticks.forEach(s=>{
    const v=Number(s);
    const t=mk('line',g,{x1:left-7,x2:left,y1:Y(v),y2:Y(v),stroke:'#000','stroke-width':3});
    
    
    const lb=mk('text',g,{class:'b',x:left-15.5,y:Y(v)+14,'font-size':38,'text-anchor':'end',textLength:labelWidth([s])*.93,lengthAdjust:'spacingAndGlyphs'},s);
    
    
  });
  days.forEach((d,i)=>{
    const t=mk('line',g,{x1:X(d),x2:X(d),y1:bottom,y2:bottom+7,stroke:'#000','stroke-width':3});
    
    
    const lb=mk('text',g,{class:'b',x:X(d),y:bottom+32,'font-size':26,'text-anchor':'middle'},dayTickLabels[i]);
    
    
  });
  const xt=mk('text',g,{class:'b',x:(left+right)/2,y:bottom+72,'font-size':36.5,'text-anchor':'middle'},'Days');
  
  
  const yt=mk('text',g,{transform:'translate('+(block.yTitle[col]+10)+','+(top+bottom)/2+') rotate(-90)','font-size':37,'text-anchor':'middle'});
  
  
  mk('tspan',yt,{},'µmol.g');
  mk('tspan',yt,{dy:-17,'font-size':25},'−1');
  mk('tspan',yt,{dy:17},'DW');
  starMarks[mi][col].forEach(s=>{
    const st=mk('text',g,{class:'b',x:X(s[1]),y:Y(s[2])+28,'font-size':55,'text-anchor':'middle',fill:'#f00'},s[0]);
    
    
  });
}
metabolites.forEach((name,mi)=>{
  [0,1,2].forEach(col=>timeChart(mi,col));
  const lay=metaboliteLayout[mi];
  const t=mk('text',svg,{class:'b',x:lay[2],y:lay[3],'font-size':84,'text-anchor':'middle'},name);
  
  
});
</script>
</body>
</html>
